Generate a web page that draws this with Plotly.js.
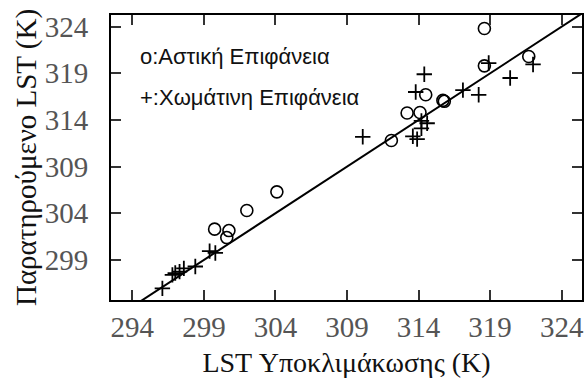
<!DOCTYPE html>
<html>
<head>
<meta charset="utf-8">
<script src="https://cdn.plot.ly/plotly-3.0.1.min.js"></script>
<style>html,body{margin:0;padding:0;background:#fff;}#chart{width:586px;height:378px;}</style>
</head>
<body>
<div id="chart"></div>
<script>
// Urban surface (circles)
var urbanX = [318.6, 318.6, 321.7, 314.5, 315.7, 315.8, 313.2, 314.1, 312.1, 304.1, 302.0, 299.75, 300.75, 300.6];
var urbanY = [323.8, 319.8, 320.8, 316.7, 316.1, 316.0, 314.75, 314.8, 311.8, 306.3, 304.3, 302.3, 302.15, 301.4];
// Soil surface (crosses)
var soilX = [314.4, 313.8, 318.9, 322.0, 320.4, 317.1, 318.2, 310.1, 313.6, 313.9, 314.2, 314.6, 314.2, 296.1, 296.8, 297.0, 297.3, 297.6, 298.4, 299.4, 299.8];
var soilY = [318.9, 317.0, 320.1, 319.95, 318.5, 317.2, 316.7, 312.2, 312.25, 311.95, 313.9, 313.65, 313.1, 295.96, 297.4, 297.6, 297.75, 298.1, 298.3, 299.95, 299.75];
// 1:1 reference line
var lineX = [292, 327];
var lineY = [292, 327];
// Ticks
var tickVals = [294, 299, 304, 309, 314, 319, 324];
var tickText = ['294', '299', '304', '309', '314', '319', '324'];
var legendUrban = 'o:Αστική Επιφάνεια';
var legendSoil = '+:Χωμάτινη Επιφάνεια';
var xTitle = 'LST Υποκλιμάκωσης (K)';
var yTitle = 'Παρατηρούμενο LST (K)';

var traces = [
  {x: lineX, y: lineY, mode: 'lines', line: {color: '#000', width: 2}, hoverinfo: 'skip', showlegend: false},
  {x: urbanX, y: urbanY, mode: 'markers', marker: {symbol: 'circle-open', size: 12, color: '#000', line: {width: 1.6, color: '#000'}}, showlegend: false},
  {x: soilX, y: soilY, mode: 'markers', marker: {symbol: 'cross-thin-open', size: 11, color: '#000', line: {width: 1.8, color: '#000'}}, showlegend: false}
];

var serif = 'Liberation Serif, Times New Roman, serif';
var axisCommon = {
  showgrid: false, zeroline: false,
  showline: true, linecolor: '#000', linewidth: 2, mirror: 'ticks',
  ticks: 'inside', ticklen: 10, tickwidth: 2, tickcolor: '#333',
  tickmode: 'array', tickvals: tickVals, ticktext: tickText,
  tickfont: {family: serif, size: 29, color: '#555'}
};

var layout = {
  width: 586, height: 378,
  margin: {l: 111, r: 4, t: 15, b: 78},
  paper_bgcolor: '#fff', plot_bgcolor: '#fff',
  showlegend: false,
  xaxis: Object.assign({}, axisCommon, {
    range: [292.51, 325.42],
    ticklabelstandoff: 0,
    title: {text: xTitle, font: {family: serif, size: 28, color: '#111'}, standoff: 14}
  }),
  yaxis: Object.assign({}, axisCommon, {
    range: [294.71, 325.25],
    ticklabelstandoff: 15,
    title: {text: yTitle, font: {family: serif, size: 29, color: '#111'}, standoff: 0}
  }),
  annotations: [
    {xref: 'paper', yref: 'paper', x: 0.058, y: 0.855, xanchor: 'left', yanchor: 'middle', showarrow: false,
     text: legendUrban, font: {family: 'Liberation Sans, Arial, sans-serif', size: 22, color: '#111'}},
    {xref: 'paper', yref: 'paper', x: 0.058, y: 0.71, xanchor: 'left', yanchor: 'middle', showarrow: false,
     text: legendSoil, font: {family: 'Liberation Sans, Arial, sans-serif', size: 22, color: '#111'}}
  ]
};

Plotly.newPlot('chart', traces, layout, {staticPlot: true, displayModeBar: false});
</script>
</body>
</html>
